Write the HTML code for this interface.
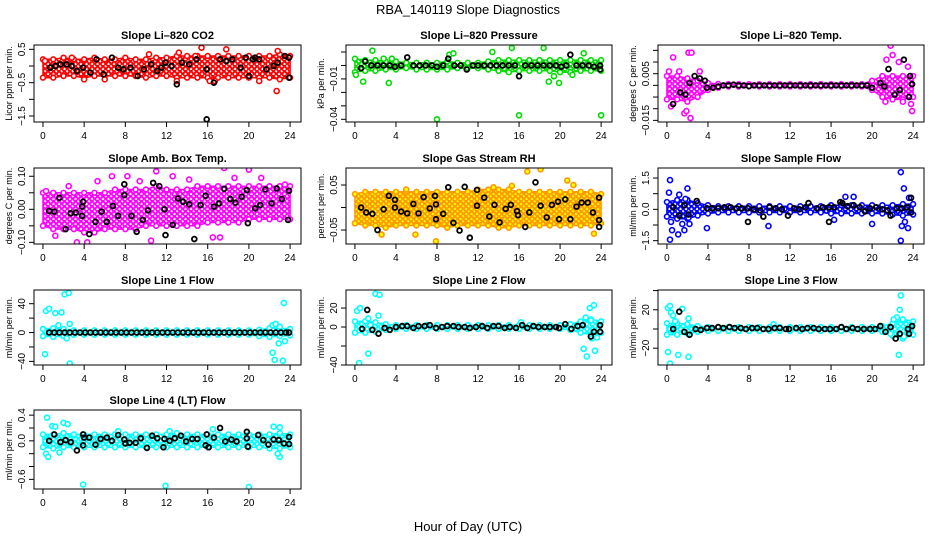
<!DOCTYPE html>
<html><head><meta charset="utf-8"><style>
html,body{margin:0;padding:0;background:#fff;}
svg{display:block;font-family:"Liberation Sans",Arial,sans-serif;}
</style></head><body>
<svg id="chart" width="936" height="540" viewBox="0 0 936 540">
<text x="468" y="14" text-anchor="middle" font-size="13">RBA_140119  Slope Diagnostics</text>
<text x="468" y="531" text-anchor="middle" font-size="13">Hour of Day (UTC)</text>
</svg>
<script>
// ---------- DATA ----------
const HOURS = [0,1,2,3,4,5,6,7,8,9,10,11,12,13,14,15,16,17,18,19,20,21,22,23,24];
const X_TICKS = [0,4,8,12,16,20,24];

// CO2
const co2Upper = [0.2,0.2,0.25,0.2,0.2,0.25,0.2,0.2,0.25,0.2,0.2,0.25,0.25,0.3,0.3,0.3,0.3,0.3,0.3,0.3,0.3,0.3,0.3,0.35,0.3];
const co2Lower = [-0.35,-0.35,-0.3,-0.3,-0.35,-0.3,-0.3,-0.3,-0.3,-0.3,-0.35,-0.3,-0.3,-0.35,-0.35,-0.35,-0.35,-0.35,-0.35,-0.35,-0.35,-0.35,-0.35,-0.4,-0.35];
const co2OutX = [15.4,17.8,22.8,13.2,22.7,16.2,6,21,13,4,16.7,0.2,14.8,10.3,2.8];
const co2OutY = [0.55,0.5,0.45,0.4,-0.75,-0.45,-0.4,-0.45,-0.45,-0.4,-0.45,0.15,0.3,0.35,0.25];
const co2BlkX = [0.7,1.2,1.7,2.3,2.8,3.3,3.9,4.6,5.2,5.9,6.7,7.3,7.8,8.5,9.2,9.8,10.5,11.1,11.5,11.9,12.5,13,13.5,14.2,14.9,15.9,15.9,16.6,17.2,17.8,18.4,19.2,19.7,20,20.4,20.6,21,21.7,22.4,22.8,23.5,23.9,23.9];
const co2BlkY = [-0.05,0,0.05,0.05,0,-0.15,-0.05,-0.2,0.2,-0.25,0.25,-0.05,-0.1,-0.05,-0.3,-0.1,0.05,-0.15,-0.05,0.1,0,-0.55,0.1,0.05,0.2,-0.1,-1.6,-0.5,0.2,0.15,0.2,-0.05,0.25,-0.3,0.2,0.25,0.2,-0.1,0,0.1,0.3,0.25,-0.35];

// Pressure
const presUpper = [0.005,0.004,0.004,0.003,0.003,0.002,0.002,0.002,0.002,0.003,0.002,0.002,0.002,0.003,0.004,0.004,0.004,0.004,0.004,0.004,0.004,0.004,0.004,0.004,0.004];
const presLower = [-0.005,-0.004,-0.004,-0.003,-0.003,-0.002,-0.003,-0.003,-0.003,-0.003,-0.002,-0.002,-0.002,-0.003,-0.004,-0.005,-0.004,-0.004,-0.004,-0.004,-0.005,-0.005,-0.004,-0.004,-0.004];
const presOutX = [0.1,0.8,1.7,3.3,2.8,8,9.2,15.3,16,13.4,18.4,18.9,19.9,22.3,24,19.4,21.2,3.6,9.6];
const presOutY = [-0.007,-0.012,0.011,-0.013,0.005,-0.04,0.008,0.013,-0.037,0.01,0.013,-0.012,-0.013,0.009,-0.037,-0.008,-0.007,0.005,0.009];
const presBlkX = [0.6,1,1.6,2.2,2.8,3.4,3.9,4.5,5.1,5.7,6.3,6.9,7.5,8,8.6,9.1,9.7,10.3,10.9,11.5,12,12.6,13.2,13.8,14.4,15,15.6,16,16.6,17.2,17.8,18.4,19,19.6,20.1,20.6,21,21.6,22.2,22.8,23.3,23.9,23.9];
const presBlkY = [-0.002,0.003,0,0,0,0,-0.001,0,0.006,0,0,0,0,-0.001,0,0.005,0,0,-0.003,0,0,0,0,0,0,0,0,-0.008,0,0,0,0,0,0,-0.001,0,0.008,0,0,0,-0.001,-0.003,0];

// Li-820 Temp
const tempUpper = [0.004,0.004,0.003,0.002,0.001,0.0006,0.0005,0.0005,0.0005,0.0005,0.0005,0.0005,0.0005,0.0005,0.0005,0.0005,0.0005,0.0005,0.0005,0.0005,0.002,0.004,0.004,0.004,0.004];
const tempLower = [-0.006,-0.006,-0.007,-0.005,-0.002,-0.001,-0.0005,-0.0005,-0.0005,-0.0005,-0.0005,-0.0005,-0.0005,-0.0005,-0.0005,-0.0005,-0.0005,-0.0005,-0.0005,-0.0005,-0.002,-0.005,-0.006,-0.006,-0.005];
const tempOutX = [0.6,2.1,2.4,2.3,1.7,1.9,0.4,21.8,22,21.4,23.8,23,23.9,21.3,0.2,1.2,3.2,22.6,23.5];
const tempOutY = [0.012,0.014,0.014,-0.014,-0.012,-0.011,-0.009,0.017,0.013,0.011,-0.008,-0.007,-0.011,-0.007,0.006,0.006,0.006,0.01,0.008];
const tempBlkX = [0.6,1.3,1.8,2.2,2.7,3.2,3.7,3.9,4.5,5,5.5,6,6.5,7,7.5,8,8.5,9,9.5,10,10.5,11,11.5,12,12.5,13,13.5,14,14.5,15,15.5,16,16.5,17,17.5,18,18.5,19,19.5,20,20.8,21.2,21.6,22.2,22.7,23.1,23.6,23.7,23.9];
const tempBlkY = [-0.008,-0.003,-0.004,0.001,0.004,0.003,0.002,-0.001,-0.001,-0.0005,0,0,0.0003,0,0,-0.0003,0,0,0,0,0,0,0,0,0,0,0,0,0,0,0,0,0,0,0,0,0,0,0,-0.001,0.001,-0.0005,0.007,-0.004,-0.002,0.011,-0.005,0.004,0.0005];

// Amb box temp
const ambUpper = [0.05,0.05,0.05,0.05,0.05,0.05,0.05,0.06,0.06,0.06,0.06,0.07,0.06,0.06,0.06,0.07,0.07,0.07,0.07,0.07,0.07,0.07,0.07,0.07,0.07];
const ambLower = [-0.05,-0.06,-0.06,-0.06,-0.07,-0.07,-0.06,-0.06,-0.06,-0.06,-0.05,-0.05,-0.05,-0.05,-0.05,-0.05,-0.04,-0.04,-0.04,-0.04,-0.03,-0.03,-0.03,-0.03,-0.03];
const ambOutX = [0.3,1.2,3.3,4.3,6.7,8.2,11,12.6,17.6,20,21.2,16.5,17.2,10.5,5.3,9.4,2.5,14.2,18.6,23.5];
const ambOutY = [0.055,-0.08,-0.1,-0.1,0.1,0.1,0.115,0.1,0.125,0.12,0.095,-0.085,-0.085,-0.095,0.085,0.085,0.07,0.09,0.095,0.075];
const ambBlkX = [0.6,1.1,1.6,2.2,2.7,3.2,3.8,3.9,3.8,4.5,5.1,5.7,6.2,6.8,7.3,7.9,7.9,8.6,9.1,9.7,10.2,10.7,11.3,11.8,11.9,12.6,13.1,13.6,14.2,14.7,15.3,15.8,16.6,17.1,17.6,18.2,18.7,19.3,19.8,19.9,20.6,21.1,21.6,22.2,22.7,23.2,23.9,23.8];
const ambBlkY = [-0.005,-0.007,0.035,-0.06,-0.012,-0.01,-0.02,0.023,0.008,-0.075,-0.038,-0.007,-0.038,0.01,-0.02,0.076,0.043,-0.02,-0.068,-0.032,-0.003,0.08,0.07,0,-0.078,-0.047,0.033,0.023,0.015,-0.09,0.013,0.041,0.008,0.018,0.062,0.031,0.02,0.038,0.058,-0.042,0.003,0.013,0.06,0.018,0.063,0.031,0.056,-0.032];

// Gas stream RH
const rhUpper = [0.03,0.035,0.035,0.035,0.035,0.035,0.035,0.035,0.035,0.035,0.035,0.035,0.04,0.04,0.04,0.04,0.035,0.035,0.035,0.035,0.035,0.035,0.035,0.035,0.03];
const rhLower = [-0.035,-0.04,-0.04,-0.045,-0.04,-0.04,-0.04,-0.04,-0.04,-0.045,-0.04,-0.04,-0.04,-0.04,-0.045,-0.045,-0.04,-0.04,-0.04,-0.04,-0.04,-0.04,-0.04,-0.04,-0.035];
const rhOutX = [16.8,18.1,20.7,5,7.9,5.9,2.6,23.3,0,15.3,13.5,21.3];
const rhOutY = [0.08,0.085,0.06,0.04,-0.075,-0.06,-0.06,-0.058,-0.035,0.048,0.045,0.05];
const rhBlkX = [0.6,1.1,1.7,2.2,2.8,3.3,3.9,3.9,4.5,5.1,5.7,6.2,6.7,7.3,7.8,7.9,7.9,8.6,9.1,9.6,10.2,10.7,11.2,11.9,11.9,12.6,13.1,13.6,14.1,14.7,15.2,15.8,15.9,16.6,17,17.6,18.1,18.7,19.2,19.8,19.9,20.5,21,21.6,22.1,22.7,23.2,23.8,23.8,23.8];
const rhBlkY = [0,-0.011,-0.014,-0.05,-0.004,0.026,0.017,0,-0.009,-0.013,0.008,-0.013,0.023,-0.002,0.026,0.007,-0.026,-0.014,0.045,-0.034,-0.051,0.046,-0.067,0.039,0.004,0.022,-0.02,0.006,-0.033,-0.003,0.006,-0.008,-0.017,-0.043,-0.011,0.056,0.004,-0.022,0.006,0.013,-0.026,0.018,-0.026,0.002,0.011,0.011,-0.011,0.022,-0.028,-0.043];

// Sample flow
const sfUpper = [0.35,0.45,0.45,0.3,0.2,0.15,0.15,0.15,0.15,0.15,0.15,0.15,0.15,0.15,0.15,0.15,0.2,0.2,0.2,0.2,0.2,0.2,0.2,0.25,0.25];
const sfLower = [-0.35,-0.45,-0.45,-0.3,-0.2,-0.15,-0.15,-0.15,-0.15,-0.15,-0.15,-0.15,-0.15,-0.15,-0.15,-0.15,-0.2,-0.2,-0.2,-0.2,-0.2,-0.2,-0.25,-0.3,-0.25];
const sfOutX = [0.3,0.2,0.4,0.5,1.1,0.3,1.2,1.5,1.8,2,2.2,2.1,1.7,3.9,9.9,20,18.2,17.4,22.8,23.1,23.6,22.8,22.9,23.2,23.5,16.3];
const sfOutY = [1.4,0.8,-0.6,-1.0,-1.2,-1.45,0.7,-0.7,0.5,1.0,-0.7,-0.4,-1.0,-0.9,-0.8,-0.7,0.6,0.6,1.78,1.0,0.55,-1.5,-0.8,-0.6,-0.9,-0.5];
const sfBlkX = [0.6,1.2,1.7,2.1,2.9,3.9,4.4,5,5.6,6.2,6.8,7.3,7.9,7.9,8.5,9.1,9.4,10,10.6,11.2,11.8,12.4,12.9,13.5,13.8,14.6,15.2,15.8,15.8,16.3,16.9,17.1,17.6,18.2,18.8,19.3,19.8,20.4,21,21.5,21.8,22.4,22.9,23.4,23.8,23.8];
const sfBlkY = [0.1,-0.3,0.2,-0.25,0.4,0.05,0.05,0.05,0.1,0.1,0.05,0.05,-0.6,0.05,0,-0.05,-0.35,0.1,0.05,0,-0.3,0.05,0,0.1,0.3,0.05,0.1,-0.6,0.1,0.1,0.35,0.3,0.15,0.2,0.1,-0.1,0.05,0.1,0,-0.05,-0.3,0.05,0.05,0.1,0.55,-0.15];

// Line 1 flow
const l1Upper = [5,6,5,3,3,3,3,3,3,3,3,3,3,3,3,3,3,3,3,3,3,4,6,6,5];
const l1Lower = [-5,-6,-5,-3,-3,-3,-3,-3,-3,-3,-3,-3,-3,-3,-3,-3,-3,-3,-3,-3,-3,-5,-6,-5,-4];
const l1OutX = [0.2,0.3,0.6,1.2,1.8,1.5,2.1,2.5,2.6,2.3,2.6,22.3,22.6,23.4,23.5,22.3,22.5,23.3,22.9,23];
const l1OutY = [-30,30,33,27,28,10,53,55,12,-8,-43,10,12,41,-12,-28,-38,-39,-15,8];
const l1BlkX = [0.6,1.1,1.6,2.1,2.6,3.1,3.6,4.1,4.6,5.1,5.6,6.1,6.6,7.1,7.6,8.1,8.6,9.1,9.6,10.1,10.6,11.1,11.6,12.1,12.6,13.1,13.6,14.1,14.6,15.1,15.6,16.1,16.6,17.1,17.6,18.1,18.6,19.1,19.6,20.1,20.6,21.1,21.6,22.1,22.6,23.1,23.6,23.9];
const l1BlkY = [0,0,0,0,0,0,0,0,0,0,0,0,0,0,0,0,0,0,0,0,0,0,0,0,0,0,0,0,0,0,0,0,0,0,0,0,0,0,0,0,0,0,0,0,0,0,0,0];

// Line 2 flow
const l2Upper = [6,6,5,3,2,2,2,2,2,2,2,2,2,2,2,2,2,2,2,2,2,3,6,8,6];
const l2Lower = [-6,-6,-5,-3,-2,-2,-2,-2,-2,-2,-2,-2,-2,-2,-2,-2,-2,-2,-2,-2,-2,-3,-6,-8,-6];
const l2OutX = [0.2,0.4,0.5,1.3,1.3,2,2.4,2.3,1.5,22.5,22.9,23.3,22.3,22.6,23.4,23.1,23.6,23,16.2];
const l2OutY = [17,-38,20,9,-28,35,34,12,2,10,20,23,-23,-31,-25,-12,-11,7,5];
const l2BlkX = [0.7,1.2,1.7,2.3,2.9,3.4,4,4.6,5.1,5.7,6.2,6.8,7.3,7.9,8.5,9,9.6,10.1,10.7,11.2,11.8,12.4,12.9,13.5,14,14.6,15.1,15.7,16.3,16.8,17.4,17.9,18.5,19,19.6,19.9,20.5,21.1,21.7,22.2,23,23.3,23.9,23.9];
const l2BlkY = [-2,18,-3,-7,-1,-3,0,1,1,-1,1,1,2,-1,0,1,1,0,0,-1,0,1,-1,1,1,-1,0,-1,2,-1,1,0,0,0,0,-1,3,-2,1,2,-10,-5,2,-5];

// Line 3 flow
const l3Upper = [6,6,5,3,2,2,2,2,2,2,2,2,2,2,2,2,2,2,2,2,2,3,6,10,8];
const l3Lower = [-6,-6,-5,-3,-2,-2,-2,-2,-2,-2,-2,-2,-2,-2,-2,-2,-2,-2,-2,-2,-2,-3,-7,-10,-6];
const l3OutX = [0.1,0.3,0.4,0.6,0.1,0.3,1.1,2.1,1.5,2.1,0.8,22.8,22.7,22.4,22.1,22.6,21.8,23.1,10.4];
const l3OutY = [22,24,17,14,-24,-36,-27,-29,21,11,8,35,20,12,10,-27,-5,-8,5];
const l3BlkX = [0.6,1.2,1.7,2.2,2.8,3.3,3.9,4.4,5,5.5,6.1,6.6,7.2,7.7,8.3,8.8,9.4,9.9,10.5,11,11.6,11.9,12.6,13.2,13.7,14.3,14.8,15.4,15.9,16.5,17,17.5,18.1,18.6,19.2,19.8,20.3,20.8,21.3,21.8,22.3,22.7,23.5,23.6,23.9];
const l3BlkY = [0,18,-3,-6,0,-1,1,1,2,1,2,1,1,0,1,1,0,0,1,1,0,0,1,0,1,1,0,0,0,0,2,0,1,0,0,0,0,3,-3,2,-10,-5,0,-5,3];

// Line 4 flow
const l4Upper = [0.1,0.1,0.12,0.1,0.1,0.1,0.1,0.1,0.1,0.1,0.1,0.1,0.1,0.12,0.1,0.1,0.1,0.1,0.1,0.1,0.1,0.1,0.1,0.12,0.1];
const l4Lower = [-0.1,-0.12,-0.1,-0.1,-0.1,-0.1,-0.1,-0.1,-0.1,-0.1,-0.1,-0.1,-0.1,-0.1,-0.1,-0.1,-0.1,-0.1,-0.1,-0.1,-0.1,-0.1,-0.12,-0.12,-0.1];
const l4OutX = [0.4,0.3,0.5,0.9,1.2,2,2.4,3.9,11.9,20,22.4,23,23,22.8,1.6,16.5,7.3,12.3];
const l4OutY = [0.36,-0.2,-0.25,0.23,0.22,0.28,0.26,-0.68,-0.7,-0.72,0.22,0.21,-0.25,-0.2,-0.18,0.18,0.15,0.15];
const l4BlkX = [0.6,1.1,1.7,2.2,2.7,3.3,3.9,3.9,4,4.5,5.1,5.6,6.2,6.7,7.3,7.9,8,8.4,9,9.5,10.1,10.6,11.1,11.7,11.8,12.3,12.8,13.4,13.9,14.5,15,15.9,15.8,16.1,16.6,17.2,17.7,18.3,18.8,19.8,19.8,19.9,20.9,21.4,21.9,22.4,22.9,23.4,23.9,23.9];
const l4BlkY = [0,0.1,-0.02,0.01,-0.02,-0.15,0.1,-0.07,0.05,0.05,-0.06,0.03,0.05,0,0.09,0.02,-0.04,-0.03,-0.03,0.04,-0.11,0.08,0.04,-0.1,0.03,0,0.04,0.08,-0.01,0.03,0.03,0.1,-0.07,-0.1,0.05,0.2,-0.01,0.02,-0.01,0.14,0.04,-0.09,0.09,0.01,-0.06,0.02,0.01,-0.04,0.06,-0.05];

// Y tick values and printed labels
const co2Ticks = [0.5,0,-0.5,-1,-1.5];           const co2Labels = ["0.5","","-0.5","","-1.5"];
const presTicks = [0.01,0,-0.01,-0.02,-0.03,-0.04]; const presLabels = ["","","-0.01","","","-0.04"];
const tempTicks = [0.015,0.01,0.005,0,-0.005,-0.01,-0.015]; const tempLabels = ["","","0.005","","","","-0.015"];
const ambTicks = [0.1,0.05,0,-0.05,-0.1];        const ambLabels = ["0.10","","0.00","","-0.10"];
const rhTicks = [0.05,0,-0.05];                  const rhLabels = ["0.05","","-0.05"];
const sfTicks = [1.5,0.75,0,-0.75,-1.5];         const sfLabels = ["1.5","","0.0","","-1.5"];
const l1Ticks = [40,20,0,-20,-40];               const l1Labels = ["40","","0","","-40"];
const l2Ticks = [20,0,-20,-40];                  const l2Labels = ["20","0","","-40"];
const l3Ticks = [40,20,0,-20];                   const l3Labels = ["","20","","-20"];
const l4Ticks = [0.4,0.2,0,-0.2,-0.4,-0.6];      const l4Labels = ["0.4","","0.0","","","-0.6"];

// ---------- LAYOUT ----------
const COLS = [[34,301],[346,612],[658,924]];
const ROWS = [[45,122],[168,244],[290,365],[410,489]];
const panels = [
 {name:"co2", title:"Slope Li-820 CO2", ylab:"Licor ppm per min.", c:0,r:0, ymin:-1.68,ymax:0.63, color:"#ff0000", fill:"none", up:co2Upper, lo:co2Lower, ox:co2OutX, oy:co2OutY, bx:co2BlkX, by:co2BlkY, t:co2Ticks, tl:co2Labels},
 {name:"pressure", title:"Slope Li-820 Pressure", ylab:"kPa per min.", c:1,r:0, ymin:-0.042,ymax:0.0152, color:"#00dd00", fill:"none", up:presUpper, lo:presLower, ox:presOutX, oy:presOutY, bx:presBlkX, by:presBlkY, t:presTicks, tl:presLabels},
 {name:"li820-temp", title:"Slope Li-820 Temp.", ylab:"degrees C per min.", c:2,r:0, ymin:-0.0157,ymax:0.0173, color:"#ff00ff", fill:"none", up:tempUpper, lo:tempLower, ox:tempOutX, oy:tempOutY, bx:tempBlkX, by:tempBlkY, t:tempTicks, tl:tempLabels},
 {name:"amb-box-temp", title:"Slope Amb. Box Temp.", ylab:"degrees C per min.", c:0,r:1, ymin:-0.105,ymax:0.125, color:"#ff00ff", fill:"none", up:ambUpper, lo:ambLower, ox:ambOutX, oy:ambOutY, bx:ambBlkX, by:ambBlkY, t:ambTicks, tl:ambLabels},
 {name:"gas-stream-rh", title:"Slope Gas Stream RH", ylab:"percent per min.", c:1,r:1, ymin:-0.081,ymax:0.0878, color:"#ff9900", fill:"#ffff00", up:rhUpper, lo:rhLower, ox:rhOutX, oy:rhOutY, bx:rhBlkX, by:rhBlkY, t:rhTicks, tl:rhLabels},
 {name:"sample-flow", title:"Slope Sample Flow", ylab:"ml/min per min.", c:2,r:1, ymin:-1.66,ymax:1.98, color:"#0000ff", fill:"none", up:sfUpper, lo:sfLower, ox:sfOutX, oy:sfOutY, bx:sfBlkX, by:sfBlkY, t:sfTicks, tl:sfLabels},
 {name:"line1-flow", title:"Slope Line 1 Flow", ylab:"ml/min per min.", c:0,r:2, ymin:-45,ymax:59, color:"#00ffff", fill:"none", up:l1Upper, lo:l1Lower, ox:l1OutX, oy:l1OutY, bx:l1BlkX, by:l1BlkY, t:l1Ticks, tl:l1Labels},
 {name:"line2-flow", title:"Slope Line 2 Flow", ylab:"ml/min per min.", c:1,r:2, ymin:-40,ymax:39, color:"#00ffff", fill:"none", up:l2Upper, lo:l2Lower, ox:l2OutX, oy:l2OutY, bx:l2BlkX, by:l2BlkY, t:l2Ticks, tl:l2Labels},
 {name:"line3-flow", title:"Slope Line 3 Flow", ylab:"ml/min per min.", c:2,r:2, ymin:-37.5,ymax:40.6, color:"#00ffff", fill:"none", up:l3Upper, lo:l3Lower, ox:l3OutX, oy:l3OutY, bx:l3BlkX, by:l3BlkY, t:l3Ticks, tl:l3Labels},
 {name:"line4-flow", title:"Slope Line 4 (LT) Flow", ylab:"ml/min per min.", c:0,r:3, ymin:-0.75,ymax:0.48, color:"#00ffff", fill:"none", up:l4Upper, lo:l4Lower, ox:l4OutX, oy:l4OutY, bx:l4BlkX, by:l4BlkY, t:l4Ticks, tl:l4Labels}
];

const NS = "http://www.w3.org/2000/svg";
const svg = document.getElementById("chart");
function mk(tag, attrs, parent){
  const e = document.createElementNS(NS, tag);
  for (const k in attrs) e.setAttribute(k, attrs[k]);
  (parent||svg).appendChild(e); return e;
}
const defs = mk("defs", {});

panels.forEach(p => {
  const [x0,x1] = COLS[p.c], [y0,y1] = ROWS[p.r];
  const XMIN=-0.87, XMAX=25.06;
  const xs = v => x0 + (v - XMIN) / (XMAX - XMIN) * (x1 - x0);
  const ys = v => y1 - (v - p.ymin) / (p.ymax - p.ymin) * (y1 - y0);
  const g = mk("g", {});
  
  

  // speckled ring texture pattern
  const patId = "pat-" + p.name;
  const pat = mk("pattern", {id: patId, width: 5.5, height: 5, patternUnits: "userSpaceOnUse"}, defs);
  mk("rect", {x:0, y:0, width:5.5, height:5, fill: p.fill === "none" ? "#fff" : p.fill}, pat);
  [[1.3,1.3],[4,3.8],[4,-1.2],[-1.5,3.8],[6.8,1.3]].forEach(([cx,cy]) => {
    mk("circle", {cx: cx, cy: cy, r: 2.1, fill: "none", stroke: p.color, "stroke-width": 1.6}, pat);
  });

  const clipId = "clip-" + p.name;
  const cp = mk("clipPath", {id: clipId}, g);
  mk("rect", {x:x0, y:y0, width:x1-x0, height:y1-y0}, cp);
  const plot = mk("g", {"clip-path": "url(#" + clipId + ")"}, g);

  // dense band
  let d = "";
  HOURS.forEach((h,i) => { d += (i ? "L" : "M") + xs(h).toFixed(1) + "," + ys(p.up[i]).toFixed(1); });
  for (let i = HOURS.length - 1; i >= 0; i--) d += "L" + xs(HOURS[i]).toFixed(1) + "," + ys(p.lo[i]).toFixed(1);
  const band = mk("path", {d: d + "Z", fill: "url(#" + patId + ")", stroke: p.color, "stroke-width": 1.5}, plot);
  
  
  // edge rings for texture
  HOURS.forEach((h,i) => {
    [p.up[i], p.lo[i]].forEach(v => {
      const r = mk("circle", {cx: xs(h), cy: ys(v), r: 2.4, fill: p.fill === "none" ? "#fff" : p.fill, stroke: p.color, "stroke-width": 1.6}, plot);
      
      
    });
  });
  // outliers
  p.ox.forEach((x,i) => {
    const r = mk("circle", {cx: xs(x), cy: ys(p.oy[i]), r: 2.5, fill: p.fill === "none" ? "#fff" : p.fill, stroke: p.color, "stroke-width": 1.6}, plot);
    
    
  });
  // hourly (black) points
  p.bx.forEach((x,i) => {
    const r = mk("circle", {cx: xs(x), cy: ys(p.by[i]), r: 2.4, fill: "none", stroke: "#000", "stroke-width": 1.8}, plot);
    
    
  });

  // box
  const box = mk("rect", {x:x0, y:y0, width:x1-x0, height:y1-y0, fill:"none", stroke:"#000", "stroke-width":1}, g);
  
  

  // x axis
  const xa = mk("g", {}, g);
  
  
  mk("line", {x1: xs(0), x2: xs(24), y1: y1, y2: y1, stroke:"#000"}, xa);
  X_TICKS.forEach(t => {
    mk("line", {x1: xs(t), x2: xs(t), y1: y1, y2: y1 + 5, stroke:"#000"}, xa);
    const tx = mk("text", {x: xs(t), y: y1 + 17, "text-anchor":"middle", "font-size": 10}, xa);
    tx.textContent = t;
  });

  // y axis
  const ya = mk("g", {}, g);
  
  
  mk("line", {x1: x0, x2: x0, y1: ys(p.t[0]), y2: ys(p.t[p.t.length-1]), stroke:"#000"}, ya);
  p.t.forEach((t,i) => {
    const yy = ys(t);
    mk("line", {x1: x0 - 5, x2: x0, y1: yy, y2: yy, stroke:"#000"}, ya);
    if (p.tl[i]) {
      const tx = mk("text", {x: 0, y: 0, "text-anchor":"middle", "font-size": 10, transform: "translate(" + (x0 - 9) + "," + yy + ") rotate(-90)"}, ya);
      tx.textContent = p.tl[i].replace("-", "\u2212");
    }
  });
  const yl = mk("text", {x:0, y:0, "text-anchor":"middle", "font-size": 9, transform: "translate(" + (x0 - 22) + "," + ((y0 + y1) / 2) + ") rotate(-90)"}, g);
  yl.textContent = p.ylab;
  
  

  const tt = mk("text", {x: (x0 + x1) / 2, y: y0 - 6, "text-anchor":"middle", "font-size": 11, "font-weight":"bold"}, g);
  tt.textContent = p.title.replace("Li-820", "Li\u2013820");
  
  
});
</script>
</body></html>
